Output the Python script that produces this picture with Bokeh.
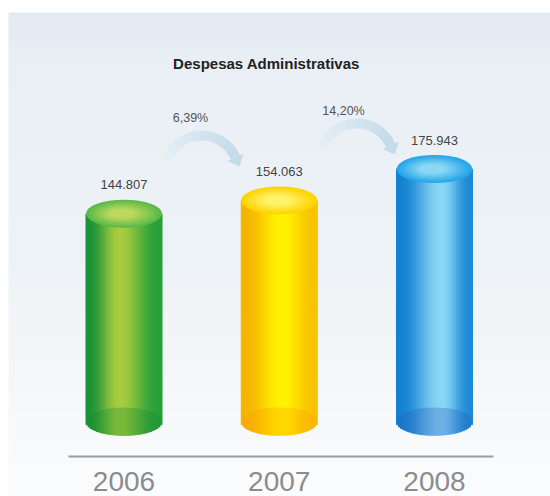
import numpy as np
from bokeh.plotting import figure
from bokeh.models import Range1d
from bokeh.core.properties import value
from bokeh.embed import file_html
from bokeh.resources import INLINE

# ---------------- data ----------------
years = ["2006", "2007", "2008"]
values = [144.807, 154.063, 175.943]
value_labels = ["144.807", "154.063", "175.943"]
growth_labels = ["6,39%", "14,20%"]
title_text = "Despesas Administrativas"

# ---------------- styles ----------------
edge_left = ["#1b9236", "#f4b400", "#1380d0"]
highlight = ["#a8cc40", "#fff200", "#8ad6f6"]
edge_right = ["#27a03a", "#f8c200", "#1e8ad6"]
hi_pos = [0.45, 0.55, 0.6]
top_outer = ["#5cba48", "#ffd400", "#27a6e8"]
top_inner = ["#bcd95e", "#fff36a", "#8ad8f6"]
bottom_tint = ["#138a30", "#ff9c00", "#2a5cb8"]

W, H = 550, 496
X0_PX, STEP_PX = 123.5, 155.25      # pixel centre of first bar, spacing
BASE_PX, PPU = 421.0, 1.435         # pixel of value 0, pixels per unit
BAR_PX, ELL_PX = 76.0, 28.0


def dx(px):
    return (px - X0_PX) / STEP_PX


def dy(py):
    return (BASE_PX - py) / PPU


def hex2rgb(h):
    h = h.lstrip("#")
    return np.array([int(h[i:i + 2], 16) for i in (0, 2, 4)], dtype=float)


def rgb2hex(c):
    c = np.clip(np.round(c), 0, 255).astype(int)
    return "#%02x%02x%02x" % tuple(c)


def mix(a, b, t):
    return rgb2hex(hex2rgb(a) * (1 - t) + hex2rgb(b) * t)


p = figure(width=W, height=H,
           x_range=Range1d(dx(0), dx(W)), y_range=Range1d(dy(H), dy(0)),
           output_backend="svg", toolbar_location=None,
           x_axis_location=None, y_axis_location=None,
           min_border=0, outline_line_color=None,
           background_fill_color="white", border_fill_color="white")
p.grid.visible = False

# ---------------- background panel gradient ----------------
stops = [(12, "#e3eaf2"), (42, "#e5ecf3"), (60, "#e9eff5"), (250, "#edf2f6"),
         (400, "#f6f8fa"), (496, "#fbfcfd")]
bl, br, bt, bb, bc = [], [], [], [], []
step = 6
for y0 in range(12, H, step):
    y1 = min(y0 + step, H)
    yc = (y0 + y1) / 2
    for (ya, ca), (yb, cb) in zip(stops[:-1], stops[1:]):
        if ya <= yc <= yb:
            col = mix(ca, cb, (yc - ya) / (yb - ya))
            break
    bl.append(dx(8)); br.append(dx(W)); bt.append(dy(y0)); bb.append(dy(y1 + 0.5)); bc.append(col)
p.quad(left=bl, right=br, top=bt, bottom=bb, fill_color=bc, line_color=None)

# ---------------- cylinders ----------------
BW = BAR_PX / STEP_PX
EH = ELL_PX / 2 / PPU
n = 38
for i, v in enumerate(values):
    ts = (np.arange(n) + 0.5) / n
    lefts = i - BW / 2 + np.arange(n) * BW / n
    rights = lefts + BW / n
    bottoms = -EH * np.sqrt(np.clip(1 - (2 * ts - 1) ** 2, 0, 1))
    cols = []
    h = hi_pos[i]
    for t in ts:
        if t < h:
            s = np.sin(np.pi / 2 * t / h) ** 2.5
            cols.append(mix(edge_left[i], highlight[i], s))
        else:
            s = np.sin(np.pi / 2 * (1 - t) / (1 - h)) ** 2.5
            cols.append(mix(edge_right[i], highlight[i], s))
    p.quad(left=lefts, right=rights, bottom=bottoms, top=[v] * n,
           fill_color=cols, line_color=cols, line_width=1)
    # bottom ellipse tint
    p.ellipse(x=[i], y=[0], width=BW, height=2 * EH, fill_color=bottom_tint[i],
              fill_alpha=0.3, line_color=None)
    # top face with concentric gradient
    k = 8
    for j in range(k):
        f = 1 - j / k * 0.75
        p.ellipse(x=[i - (1 - f) * BW * 0.04], y=[v], width=BW * f, height=2 * EH * f,
                  fill_color=mix(top_outer[i], top_inner[i], j / (k - 1)), line_color=None)

# ---------------- growth arrows ----------------
arrow_peak_px = [135.0, 123.0]
R = 37.0
growth_px = [(190.0, 117.0), (343.0, 110.0)]
for k_, lbl in enumerate(growth_labels):
    cx_px = X0_PX + STEP_PX * (k_ + 0.5)
    cy_px = arrow_peak_px[k_] + R
    segs = 10
    a0, a1 = np.radians(160), np.radians(24)
    angs = np.linspace(a0, a1, segs + 1)
    for s in range(segs):
        c = mix("#e4eef5", "#c4dbea", s / (segs - 1))
        p.arc(x=[dx(cx_px)], y=[dy(cy_px)], radius=R, radius_units="screen",
              start_angle=angs[s + 1], end_angle=angs[s] + 0.01, direction="anticlock",
              line_color=c, line_width=10)
    th = a1
    ex, ey = cx_px + R * np.cos(th), cy_px - R * np.sin(th)
    tx, ty = np.sin(th), np.cos(th)            # tangent in image coords (y down)
    nx, ny = -ty, tx
    tip = (ex + tx * 10, ey + ty * 10)
    c1 = (ex + nx * 9, ey + ny * 9)
    c2 = (ex - nx * 9, ey - ny * 9)
    p.patch(x=[dx(tip[0]), dx(c1[0]), dx(c2[0])], y=[dy(tip[1]), dy(c1[1]), dy(c2[1])],
            fill_color="#c4dbea", line_color=None)
    gx, gy = growth_px[k_]
    p.text(x=[dx(gx)], y=[dy(gy)], text=[lbl], text_font=value("Liberation Sans"),
           text_font_size="12.5px", text_color="#555555",
           text_align="center", text_baseline="middle")

# ---------------- labels ----------------
idx = list(range(len(values)))
p.text(x=idx, y=values, text=value_labels, y_offset=-29,
       text_font=value("Liberation Sans"), text_font_size="13px", text_color="#444444",
       text_align="center", text_baseline="middle")

p.text(x=[dx(266)], y=[dy(63)], text=[title_text], text_font=value("Liberation Sans"),
       text_font_style="bold", text_font_size="15px", text_color="#222222",
       text_align="center", text_baseline="middle")

# baseline and year labels
p.segment(x0=[dx(68)], x1=[dx(493)], y0=[dy(456)], y1=[dy(456)],
          line_color="#9c9c9c", line_width=2)
p.text(x=idx, y=[dy(481)] * len(years), text=years, text_font=value("Liberation Sans"),
       text_font_size="28px", text_color="#8c8c8c",
       text_align="center", text_baseline="middle")

open("out.html", "w").write(file_html(p, INLINE))
